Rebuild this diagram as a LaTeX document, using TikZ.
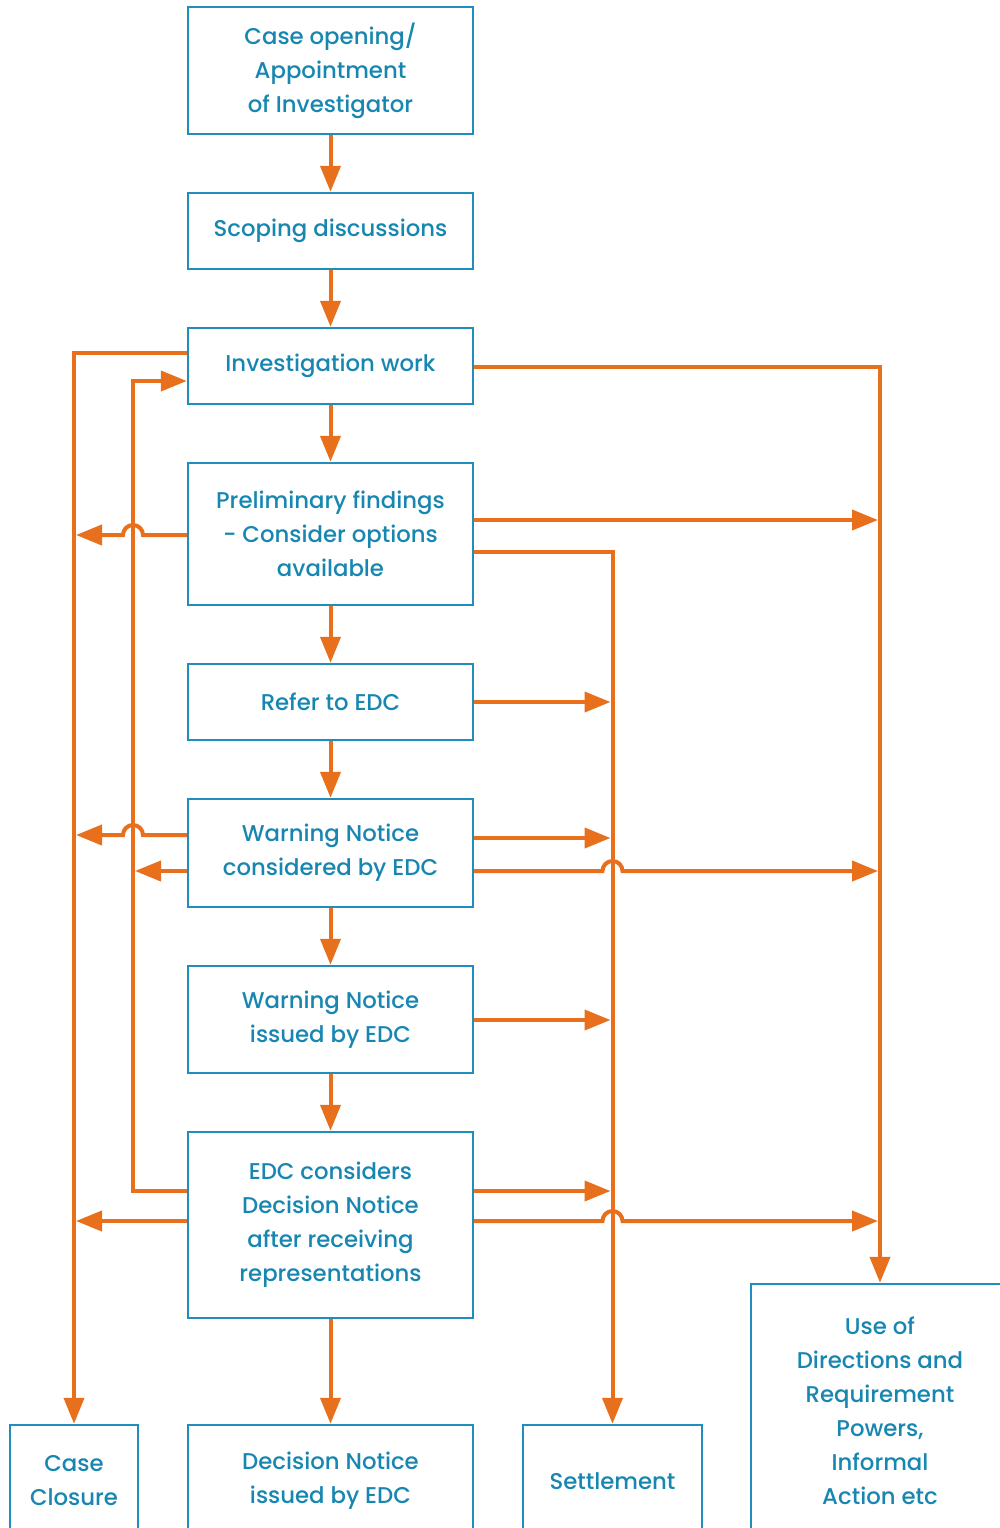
\documentclass[tikz,border=0pt]{standalone}
\usepackage{fontspec}
\setmainfont{Poppins}[UprightFont={* Medium}]
\usetikzlibrary{arrows.meta,calc}
\definecolor{boxblue}{HTML}{1F8DBE}
\definecolor{txtblue}{HTML}{1787B2}
\definecolor{flow}{HTML}{E8701C}
\begin{document}
\begin{tikzpicture}[x=0.5pt,y=-0.5pt,
  box/.style={draw=boxblue, line width=1.2pt, text=txtblue, align=center, inner sep=0pt,
    minimum width=142.5pt, font=\fontsize{11.4}{17}\selectfont},
  arr/.style={draw=flow, line width=2pt, -{Triangle[length=13pt,width=10pt]}},
  jr/.style={radius=5pt}]
\useasboundingbox (0,0) rectangle (1000,1528);
\clip (0,0) rectangle (1000,1528);
\fill[white] (0,0) rectangle (1000,1528);
% nodes
\node[box, minimum height=63.5pt] (open) at (330.5,70.5) {Case opening/\\Appointment\\of Investigator};
\node[box, minimum height=38pt] (scope) at (330.5,231) {Scoping discussions};
\node[box, minimum height=38pt] (inv) at (330.5,366) {Investigation work};
\node[box, minimum height=71pt] (prelim) at (330.5,534) {Preliminary findings\\- Consider options\\available};
\node[box, minimum height=38pt] (refer) at (330.5,702) {Refer to EDC};
\node[box, minimum height=54pt] (warnc) at (330.5,853) {Warning Notice\\considered by EDC};
\node[box, minimum height=53.5pt] (warni) at (330.5,1019.5) {Warning Notice\\issued by EDC};
\node[box, minimum height=93pt] (edcc) at (330.5,1225) {EDC considers\\Decision Notice\\after receiving\\representations};
\node[box, minimum width=64pt, minimum height=56pt] (closure) at (74,1481) {Case\\Closure};
\node[box, minimum height=56pt] (dni) at (330.5,1481) {Decision Notice\\issued by EDC};
\node[box, minimum width=89.5pt, minimum height=56pt] (settle) at (612.5,1481) {Settlement};
\node[box, minimum width=129pt, minimum height=126.5pt] (useof) at (880,1410.5) {Use of\\Directions and\\Requirement\\Powers,\\Informal\\Action etc};
% main chain
\draw[arr] (open) -- (scope);
\draw[arr] (scope) -- (inv);
\draw[arr] (inv) -- (prelim);
\draw[arr] (prelim) -- (refer);
\draw[arr] (refer) -- (warnc);
\draw[arr] (warnc) -- (warni);
\draw[arr] (warni) -- (edcc);
\draw[arr] (edcc) -- (dni);
% left side
\draw[arr] (inv.west |- 0,353) -| (closure.north);
\draw[arr] (edcc.west |- 0,1191) -- (133,1191) -- (133,381) -- (inv.west |- 0,381);
\draw[arr] (prelim.west |- 0,535) -- (143,535) arc[start angle=0,end angle=180,jr] -- (76,535);
\draw[arr] (warnc.west |- 0,835) -- (143,835) arc[start angle=0,end angle=180,jr] -- (76,835);
\draw[arr] (warnc.west |- 0,871) -- (135,871);
\draw[arr] (edcc.west |- 0,1221) -- (76,1221);
% right side
\draw[arr] (inv.east |- 0,367) -| (useof.north);
\draw[arr] (prelim.east |- 0,520) -- (878,520);
\draw[arr] (prelim.east |- 0,552) -| (settle.north);
\draw[arr] (refer.east |- 0,702) -- (610.5,702);
\draw[arr] (warnc.east |- 0,838) -- (610.5,838);
\draw[arr] (warnc.east |- 0,871) -- (602.5,871) arc[start angle=180,end angle=0,jr] -- (878,871);
\draw[arr] (warni.east |- 0,1020) -- (610.5,1020);
\draw[arr] (edcc.east |- 0,1191) -- (610.5,1191);
\draw[arr] (edcc.east |- 0,1221) -- (602.5,1221) arc[start angle=180,end angle=0,jr] -- (878,1221);
\end{tikzpicture}
\end{document}
